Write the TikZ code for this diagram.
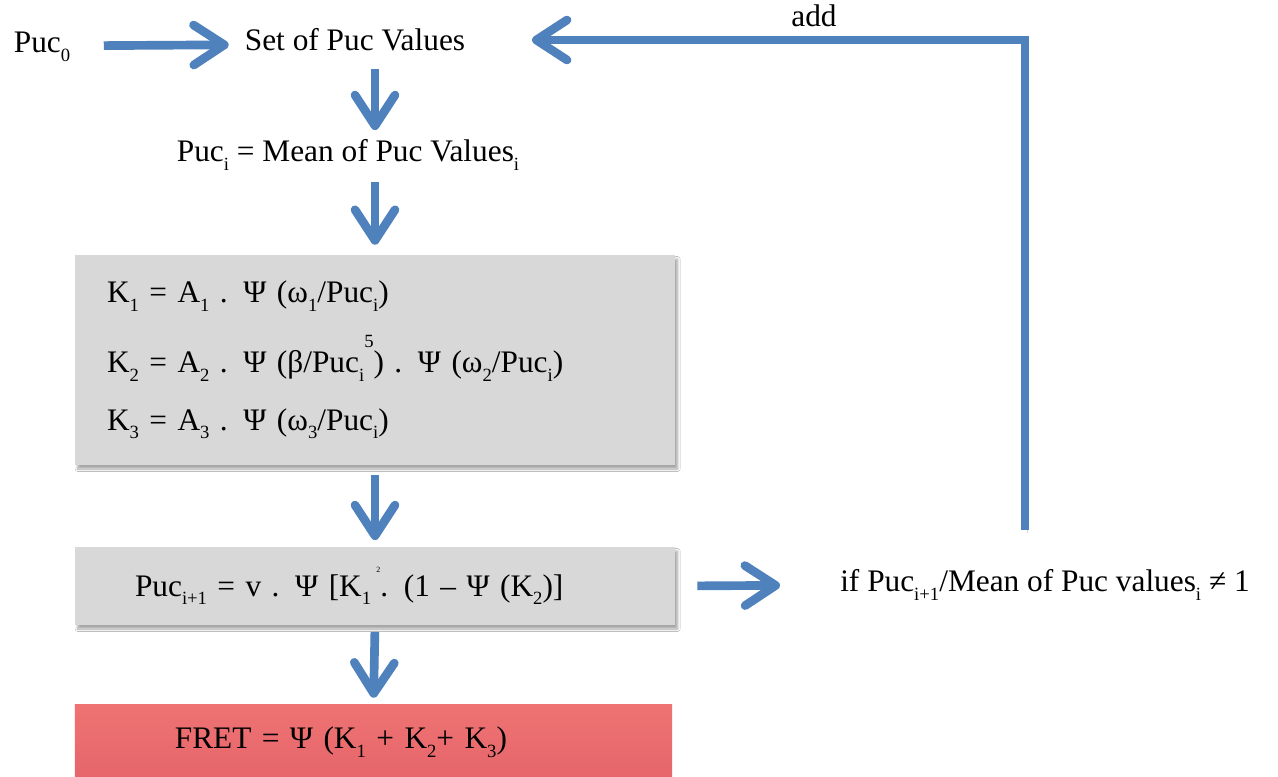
\documentclass[tikz,border=0pt]{standalone}
\usepackage{fontspec}
\setmainfont{Liberation Serif}
\usetikzlibrary{arrows.meta,shadows.blur}
\definecolor{FlowBlue}{HTML}{4F81BD}
\definecolor{BoxGray}{HTML}{D8D8D8}
\definecolor{FretTop}{HTML}{EF7373}
\definecolor{FretBot}{HTML}{E5656A}
\newcommand{\lo}[1]{\raisebox{-0.28em}{\fontsize{14}{14}\selectfont #1}}
\newcommand{\hi}[1]{\raisebox{0.8em}{\fontsize{14}{14}\selectfont #1}}
\newcommand{\tinysq}{\raisebox{0.75em}{\fontsize{6}{6}\selectfont 2}}

\begin{document}
\begin{tikzpicture}[x=0.75pt, y=-0.75pt, >={Straight Barb[length=23pt,width=30pt,round]},
    txt/.style={inner sep=0pt, text height=16pt, text depth=6pt, font=\fontsize{23.5}{28}\selectfont},
    flow/.style={->, line width=6.5pt, FlowBlue,
        preaction={draw=black!15, transform canvas={shift={(1.5pt,-2.5pt)}}}},
    calcbox/.style={fill=BoxGray, minimum width=450pt, align=left,
        blur shadow={shadow xshift=2pt, shadow yshift=-3pt, shadow blur steps=8, shadow opacity=35}}]
    % White page, same size as the reference
    \fill[white] (0,0) rectangle (1278,776);
    \useasboundingbox (0,0) rectangle (1278,776);

    % Text nodes
    \node[txt] (puc0) at (42,46) {Puc\lo{0}};
    \node[txt] (setv) at (355,44) {Set of Puc Values};
    \node[txt] (mean) at (348,155) {Puc\lo{i} = Mean of Puc Values\lo{i}};

    % Boxes
    \node[calcbox, minimum height=157.5pt, text width=402pt, inner xsep=24pt,
        font=\fontsize{23.5}{43}\selectfont] (kbox) at (375,360) {%
        K\lo{1} = A\lo{1} . Ψ (ω\lo{1}/Puc\lo{i})\\[9.5pt]
        K\lo{2} = A\lo{2} . Ψ (β/Puc\lo{i}\hi{5}) . Ψ (ω\lo{2}/Puc\lo{i})\\
        K\lo{3} = A\lo{3} . Ψ (ω\lo{3}/Puc\lo{i})};
    \node[calcbox, minimum height=58.5pt, text width=360pt, inner xsep=45pt,
        font=\fontsize{23.5}{28}\selectfont] (pbox) at (375,586) {%
        Puc\lo{i+1} = v . Ψ [K\lo{1}\,\tinysq. (1 – Ψ (K\lo{2})]};
    \node[shading=axis, top color=FretTop, bottom color=FretBot, minimum width=448pt,
        minimum height=57pt, text width=298pt, inner xsep=75pt, align=left,
        font=\fontsize{23.5}{28}\selectfont] (fret) at (373.5,742) {%
        FRET = Ψ (K\lo{1} + K\lo{2}+ K\lo{3})};

    % Condition
    \node[txt, anchor=west] (cond) at (840,585) {if Puc\lo{i+1}/Mean of Puc values\lo{i} ≠ 1};
    \coordinate (turn) at (1025,40);

    % Arrows
    \draw[flow, shorten <=25pt, shorten >=12pt] (puc0) -- (setv);
    \draw[flow, shorten <=7.5pt, shorten >=7.5pt] (setv.south -| kbox.north) -- (mean.north -| kbox.north);
    \draw[flow, shorten <=9pt, shorten >=7.5pt] (mean.south -| kbox.north) -- (kbox.north);
    \draw[flow, shorten <=7.5pt, shorten >=5pt] (kbox.south) -- (pbox.north);
    \draw[flow, shorten <=5pt, shorten >=4.5pt] (pbox.south) -- (fret.north);
    \draw[flow, shorten <=16.5pt, shorten >=45pt] (pbox.east) -- (cond.west);

    % Feedback loop
    \draw[flow, shorten <=30pt, shorten >=50pt] (cond.north -| turn) -- (turn)
        -- node[txt, pos=0.377, above=1pt, text=black] (add) {add} (setv.east |- turn);
\end{tikzpicture}
\end{document}
